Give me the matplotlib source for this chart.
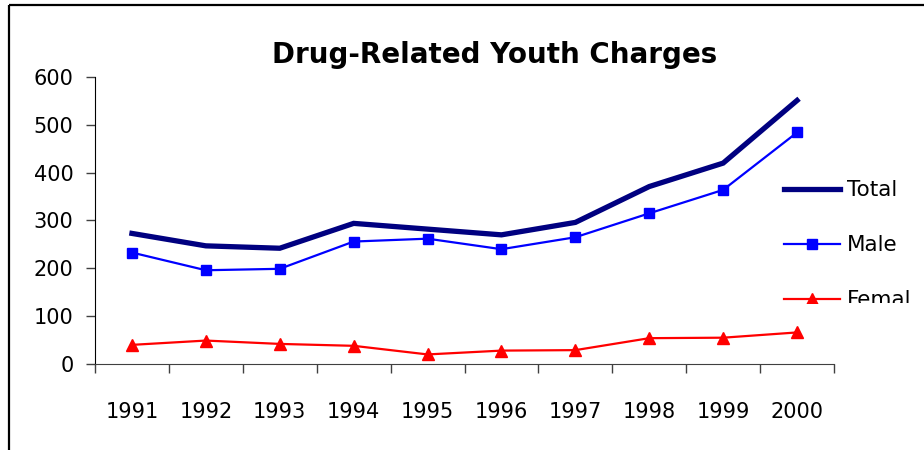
import matplotlib
matplotlib.use("Agg")
import matplotlib.pyplot as plt
from matplotlib.lines import Line2D
from matplotlib.transforms import Bbox, TransformedBbox
import numpy as np

years = ["1991", "1992", "1993", "1994", "1995", "1996", "1997", "1998", "1999", "2000"]
total = [273, 247, 242, 294, 282, 270, 296, 371, 420, 551]
male = [233, 196, 199, 256, 262, 240, 265, 315, 364, 484]
female = [40, 49, 42, 38, 20, 28, 29, 54, 55, 66]
yticks = [0, 100, 200, 300, 400, 500, 600]

plt.rcParams['font.family'] = ['DejaVu Sans']

W, H = 924, 450
fig = plt.figure(figsize=(W / 100, H / 100), dpi=100)
ax = fig.add_axes([95 / W, 1 - 364 / H, (834 - 95) / W, (364 - 77) / H])

x = np.arange(len(years))
ax.plot(x, total, color='#000080', lw=3.8, label='Total', solid_joinstyle='miter')
ax.plot(x, male, color='#0000FF', lw=1.6, marker='s', markersize=6.5, label='Male')
ax.plot(x, female, color='#FF0000', lw=1.6, marker='^', markersize=8.5, label='Female')

ax.set_xlim(-0.5, len(years) - 0.5)
ax.set_ylim(0, 600)
ax.set_yticks(yticks)
ax.set_yticklabels([str(v) for v in yticks], fontsize=15)
ax.set_xticks(np.arange(len(years) + 1) - 0.5)
ax.set_xticklabels([])
ax.set_xticks(x, minor=True)
ax.set_xticklabels(years, minor=True, fontsize=15)
ax.tick_params(axis='x', which='major', direction='out', length=6.5, color='#404040', width=1)
ax.tick_params(axis='x', which='minor', length=0, pad=27)
ax.tick_params(axis='y', direction='out', length=6.5, color='#404040', width=1, pad=9)
for s in ['top', 'right']:
    ax.spines[s].set_visible(False)
ax.spines['left'].set_color('#000000')
ax.spines['bottom'].set_color('#404040')

fig.text(495 / W, 1 - 55 / H, 'Drug-Related Youth Charges', ha='center', va='center',
         fontsize=20, fontweight='bold')

leg = fig.legend(loc='upper left', bbox_to_anchor=(780 / W, 1 - 176 / H), frameon=False,
                 fontsize=15.5, handlelength=2.6, handletextpad=0.3, labelspacing=1.63,
                 borderaxespad=0, borderpad=0.2)
clip = TransformedBbox(Bbox([[0, 1 - 303 / H], [911 / W, 1]]), fig.transFigure)
for a in leg.findobj():
    if a is not leg:
        a.set_clip_box(clip)
        a.set_clip_on(True)

# frame lines at top and left
fig.add_artist(Line2D([8.5 / W, 1.01], [1 - 4.5 / H, 1 - 4.5 / H], transform=fig.transFigure,
                      color='black', lw=1.6, solid_capstyle='butt'))
fig.add_artist(Line2D([8.5 / W, 8.5 / W], [-0.01, 1 - 4.5 / H], transform=fig.transFigure,
                      color='black', lw=1.6, solid_capstyle='butt'))

fig.savefig('out.png', dpi=100)
